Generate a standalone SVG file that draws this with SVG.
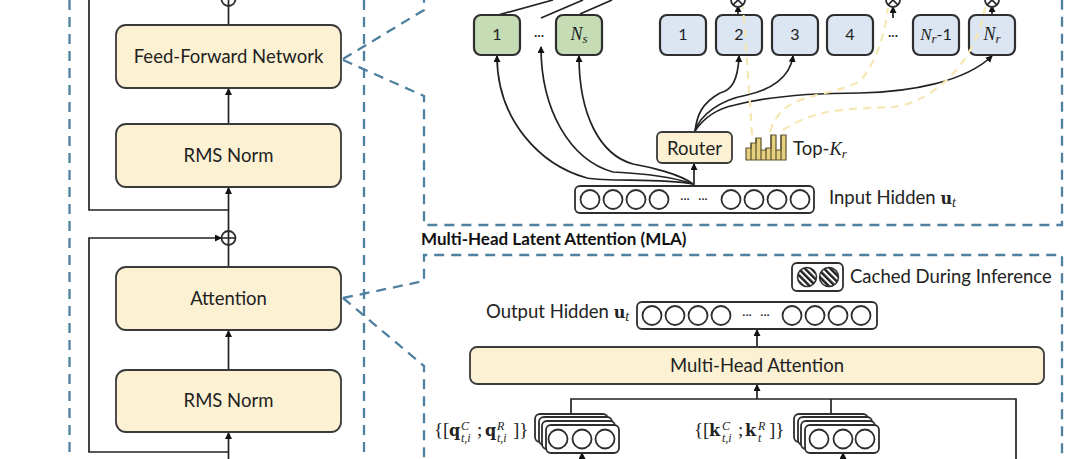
<svg xmlns="http://www.w3.org/2000/svg" width="1080" height="459" viewBox="0 0 1080 459">
<style>
text{font-family:"Lato","Open Sans",sans-serif;fill:#222;text-anchor:middle}
.s{text-anchor:start}
.m{font-family:"Liberation Serif","DejaVu Serif",serif;font-style:italic}
.n{font-family:"Liberation Serif","DejaVu Serif",serif;font-style:normal}
.b{font-family:"DejaVu Serif","Liberation Serif",serif;font-weight:bold;font-style:normal}
.t{font-size:18.500px}
.y{fill:#fdf1d3;stroke:#3a3a3a;stroke-width:1.800}
.g{fill:#c5dcb4;stroke:#2e2e2e;stroke-width:2.200}
.u{fill:#dbe6f2;stroke:#2e2e2e;stroke-width:2.200}
.bar{fill:#fff;stroke:#2e2e2e;stroke-width:1.800}
.c{fill:#fff;stroke:#2e2e2e;stroke-width:1.800}
.l{fill:none;stroke:#222;stroke-width:1.700}
.d{fill:none;stroke:#50809f;stroke-width:2.300;stroke-dasharray:10 7}
.yd{fill:none;stroke:#f5e8b4;stroke-width:2.200;stroke-dasharray:8 6}
.h{fill:#e6d07e;stroke:#5c5330;stroke-width:1.200}
</style>
<defs>
<marker id="a" markerWidth="8" markerHeight="8" refX="6" refY="3.500" orient="auto" markerUnits="userSpaceOnUse"><path d="M0 0L7 3.500L0 7z" fill="#111"/></marker>
<pattern id="hatch" width="4.500" height="4.500" patternUnits="userSpaceOnUse" patternTransform="rotate(-45)"><rect width="4.500" height="4.500" fill="#fff"/><rect width="2.500" height="4.500" fill="#222"/></pattern>
</defs>

<g id="connectors">
<path class="d" d="M69.500 0V459M364 0V459"/>
<path class="d" d="M343 59L424 10V0"/>
<path class="d" d="M343 60L424 96V225H1062V0"/>
<path class="d" d="M343 298L424 281V255H1062V459"/>
<path class="d" d="M343 298L424 366V459"/>
<path class="l" d="M89 0V210H228.500"/>
<path class="l" d="M228.500 25V6"/>
<path class="l" d="M228.500 124V89" marker-end="url(#a)"/>
<path class="l" d="M228.500 231V188" marker-end="url(#a)"/>
<path class="l" d="M228.500 267V245"/>
<path class="l" d="M228.500 370V331" marker-end="url(#a)"/>
<path class="l" d="M228.500 459V433" marker-end="url(#a)"/>
<path class="l" d="M228.500 452H89V238H221" marker-end="url(#a)"/>
<path class="l" d="M498 15L553 0M541 18L583 0M580 14L612 0"/>
<path class="l" d="M693 184C660 178 610 182 587 178C540 165 497 120 497 56" marker-end="url(#a)"/>
<path class="l" d="M693 184C670 176 635 173 613 172C570 160 541 110 541 47" marker-end="url(#a)"/>
<path class="l" d="M693 184C680 174 650 167 633 164C600 155 579 115 579 56" marker-end="url(#a)"/>
<path class="l" d="M694 185V164" marker-end="url(#a)"/>
<path class="l" d="M695 131C697 115 702 103 720 93C732 90 738 80 739 56" marker-end="url(#a)"/>
<path class="l" d="M695 131C700 115 720 100 747 95C770 90 790 78 793 56" marker-end="url(#a)"/>
<path class="l" d="M695 131C705 116 720 108 735 105C770 96 820 93 860 93C910 92 965 82 992 56" marker-end="url(#a)"/>
<path class="l" d="M738 14V6" marker-end="url(#a)"/>
<path class="l" d="M893 18V7" marker-end="url(#a)"/>
<path class="l" d="M992 14V6" marker-end="url(#a)"/>
<path class="l" d="M757 347V330" marker-end="url(#a)"/>
<path class="l" d="M757 399V385" marker-end="url(#a)"/>
<path class="l" d="M571 414V399H1016V459"/>
<path class="l" d="M831 414V399"/>
<path class="l" d="M582 459V453" marker-end="url(#a)"/>
<path class="l" d="M843 459V453" marker-end="url(#a)"/>
</g>

<g id="adders">
<circle cx="228.500" cy="-1" r="7" class="c"/><path class="l" d="M228.500 -8V6M221.500 -1H235.500"/>
<circle cx="228.500" cy="238" r="7" class="c"/><path class="l" d="M228.500 231V245M221.500 238H235.500"/>
<circle cx="738" cy="0" r="7" class="c"/><path class="l" d="M733 -5L743 5M743 -5L733 5"/>
<circle cx="893" cy="0" r="7" class="c"/><path class="l" d="M888 -5L898 5M898 -5L888 5"/>
<circle cx="992" cy="0" r="7" class="c"/><path class="l" d="M987 -5L997 5M997 -5L987 5"/>
</g>

<g id="ffn"><rect class="y" x="116" y="25" width="225" height="63" rx="10"/><text class="t" x="228.500" y="63">Feed-Forward Network</text></g>
<g id="rms1"><rect class="y" x="116" y="124" width="225" height="63" rx="10"/><text class="t" x="228.500" y="162">RMS Norm</text></g>
<g id="attention"><rect class="y" x="116" y="267" width="225" height="63" rx="10"/><text class="t" x="228.500" y="305">Attention</text></g>
<g id="rms2"><rect class="y" x="116" y="370" width="225" height="62" rx="10"/><text class="t" x="228.500" y="407">RMS Norm</text></g>

<g id="shared-experts">
<rect class="g" x="474" y="15" width="46" height="40" rx="7"/><text x="497" y="40" font-size="16">1</text>
<text x="539" y="40" font-size="13">···</text>
<rect class="g" x="556" y="15" width="46" height="40" rx="7"/><text class="m" x="579" y="40" font-size="18">N<tspan font-size="13" dy="3">s</tspan></text>
</g>
<g id="routing-experts">
<rect class="u" x="660" y="15" width="46" height="40" rx="7"/><text x="683" y="40" font-size="16">1</text>
<rect class="u" x="716" y="15" width="46" height="40" rx="7"/><text x="739" y="40" font-size="16">2</text>
<rect class="u" x="772" y="15" width="46" height="40" rx="7"/><text x="795" y="40" font-size="16">3</text>
<rect class="u" x="827" y="15" width="46" height="40" rx="7"/><text x="850" y="40" font-size="16">4</text>
<text x="893" y="40" font-size="13">···</text>
<rect class="u" x="913" y="15" width="46" height="40" rx="7"/><text class="m" x="936" y="40" font-size="17">N<tspan font-size="13" dy="3">r</tspan><tspan font-family="Lato" font-style="normal" font-size="16" dy="-3">-1</tspan></text>
<rect class="u" x="969" y="15" width="46" height="40" rx="7"/><text class="m" x="992" y="40" font-size="18">N<tspan font-size="13" dy="3">r</tspan></text>
</g>
<g id="top-kr-lines">
<path class="yd" d="M752 135C750 100 746 50 743 7"/>
<path class="yd" d="M770 132C775 115 785 106 800 100C825 92 845 90 860 81C875 65 885 35 888 8"/>
<path class="yd" d="M783 130C795 122 810 116 823 113C845 108 875 108 893 107C925 104 975 70 985 7"/>
</g>
<g id="router"><rect class="y" x="657" y="132" width="75" height="31" rx="5"/><text class="t" x="694.500" y="155">Router</text></g>
<g id="top-kr">
<path class="h" d="M746 160V148H751V143H756V138H761V150H766V148H771V135H776V150H781V135H786V160Z"/>
<path d="M751 160V143M756 160V138M761 160V150M766 160V148M771 160V135M776 160V150M781 160V135" stroke="#5c5330" stroke-width="1.200" fill="none"/>
<text class="s t" x="793" y="155">Top-<tspan class="m">K</tspan><tspan class="m" font-size="13" dy="3">r</tspan></text>
</g>
<g id="input-hidden">
<rect class="bar" x="575" y="186" width="239" height="27" rx="5"/>
<circle cx="590" cy="199.500" r="9.500" class="c"/><circle cx="613" cy="199.500" r="9.500" class="c"/><circle cx="636" cy="199.500" r="9.500" class="c"/><circle cx="659" cy="199.500" r="9.500" class="c"/><circle cx="731" cy="199.500" r="9.500" class="c"/><circle cx="754" cy="199.500" r="9.500" class="c"/><circle cx="777" cy="199.500" r="9.500" class="c"/><circle cx="800" cy="199.500" r="9.500" class="c"/>
<text x="685" y="203" font-size="12">···</text><text x="703" y="203" font-size="12">···</text>
<text class="s t" x="829" y="204">Input Hidden <tspan class="b" font-size="16">u</tspan><tspan class="m" font-size="14" dy="3">t</tspan></text>
</g>
<text id="mla-title" class="s" x="421" y="245" font-size="17" font-weight="bold" style="fill:#111">Multi-Head Latent Attention (MLA)</text>
<g id="legend">
<rect class="bar" x="792" y="263" width="51" height="28" rx="5"/>
<circle cx="807" cy="277" r="9.500" fill="url(#hatch)" stroke="#2e2e2e" stroke-width="1.500"/>
<circle cx="829" cy="277" r="9.500" fill="url(#hatch)" stroke="#2e2e2e" stroke-width="1.500"/>
<text class="s t" x="850" y="283">Cached During Inference</text>
</g>
<g id="output-hidden">
<text class="s t" x="486" y="318">Output Hidden <tspan class="b" font-size="16">u</tspan><tspan class="m" font-size="14" dy="3">t</tspan></text>
<rect class="bar" x="637" y="302" width="240" height="27" rx="5"/>
<circle cx="652" cy="315.500" r="9.500" class="c"/><circle cx="675" cy="315.500" r="9.500" class="c"/><circle cx="698" cy="315.500" r="9.500" class="c"/><circle cx="721" cy="315.500" r="9.500" class="c"/><circle cx="792" cy="315.500" r="9.500" class="c"/><circle cx="815" cy="315.500" r="9.500" class="c"/><circle cx="838" cy="315.500" r="9.500" class="c"/><circle cx="861" cy="315.500" r="9.500" class="c"/>
<text x="747" y="319" font-size="12">···</text><text x="765" y="319" font-size="12">···</text>
</g>
<g id="mha"><rect class="y" x="470" y="347" width="574" height="37" rx="7"/><text class="t" x="757" y="372">Multi-Head Attention</text></g>
<g id="query-stack">
<rect class="bar" x="535" y="414" width="73" height="28" rx="5"/><rect class="bar" x="539" y="417" width="73" height="28" rx="5"/><rect class="bar" x="542" y="421" width="73" height="28" rx="5"/><rect class="bar" x="546" y="425" width="73" height="28" rx="5"/>
<circle cx="558" cy="439" r="9.500" class="c"/><circle cx="582" cy="439" r="9.500" class="c"/><circle cx="605" cy="439" r="9.500" class="c"/>
<text class="s n" font-size="19" y="436"><tspan x="434">{[</tspan><tspan class="b" font-size="16" x="449">q</tspan><tspan class="m" font-size="12" x="461" y="430">C</tspan><tspan class="m" font-size="12" x="461" y="442">t,i</tspan><tspan x="477" y="436">;</tspan><tspan class="b" font-size="16" x="485">q</tspan><tspan class="m" font-size="12" x="497" y="430">R</tspan><tspan class="m" font-size="12" x="497" y="442">t,i</tspan><tspan x="513" y="436">]}</tspan></text>
</g>
<g id="key-stack">
<rect class="bar" x="794" y="414" width="74" height="28" rx="5"/><rect class="bar" x="798" y="417" width="74" height="28" rx="5"/><rect class="bar" x="801" y="421" width="74" height="28" rx="5"/><rect class="bar" x="805" y="425" width="74" height="28" rx="5"/>
<circle cx="819" cy="439" r="9.500" class="c"/><circle cx="843" cy="439" r="9.500" class="c"/><circle cx="865" cy="439" r="9.500" class="c"/>
<text class="s n" font-size="19" y="436"><tspan x="694">{[</tspan><tspan class="b" font-size="16" x="709">k</tspan><tspan class="m" font-size="12" x="722" y="430">C</tspan><tspan class="m" font-size="12" x="722" y="442">t,i</tspan><tspan x="738" y="436">;</tspan><tspan class="b" font-size="16" x="745">k</tspan><tspan class="m" font-size="12" x="758" y="430">R</tspan><tspan class="m" font-size="12" x="758" y="442">t</tspan><tspan x="769" y="436">]}</tspan></text>
</g>
</svg>
